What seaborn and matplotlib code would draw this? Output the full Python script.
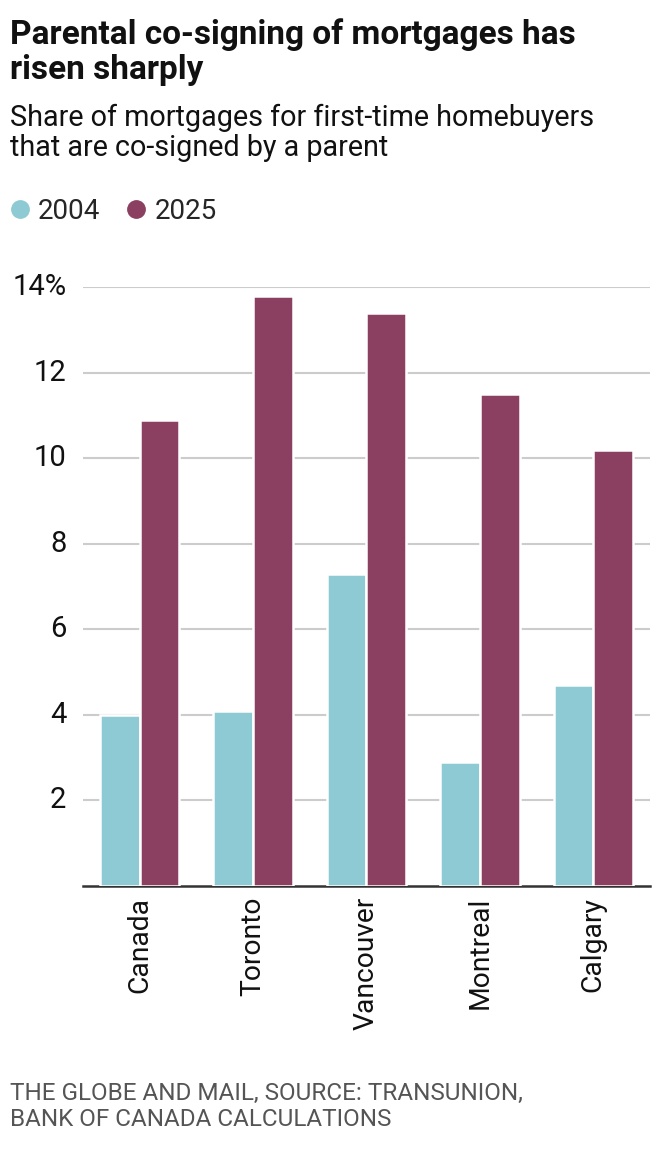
import matplotlib
matplotlib.use("Agg")
import matplotlib.pyplot as plt
import pandas as pd
import seaborn as sns
from matplotlib.lines import Line2D

# Data
cities = ["Canada", "Toronto", "Vancouver", "Montreal", "Calgary"]
share_2004 = [4.0, 4.1, 7.3, 2.9, 4.7]
share_2025 = [10.9, 13.8, 13.4, 11.5, 10.2]
years = ["2004", "2025"]
y_ticks = [2, 4, 6, 8, 10, 12, 14]
y_tick_labels = ["2", "4", "6", "8", "10", "12", "14%"]

colors = {"2004": "#8ecad4", "2025": "#8b3f61"}

df = pd.DataFrame({
    "city": cities * 2,
    "year": ["2004"] * len(cities) + ["2025"] * len(cities),
    "share": share_2004 + share_2025,
})

sns.set_theme(style="white")
plt.rcParams["font.family"] = ["Roboto", "DejaVu Sans"]

fig = plt.figure(figsize=(6.6, 11.5), dpi=100)
ax = fig.add_axes([0.1258, 0.2296, 0.859, 0.5208])

sns.barplot(data=df, x="city", y="share", hue="year", hue_order=years,
            palette=colors, width=0.7, ax=ax, edgecolor="white",
            linewidth=1.8, saturation=1, legend=False, zorder=3)

ax.set_ylim(0, 14)
ax.set_xlim(-0.5, 4.5)
ax.set_yticks(y_ticks)
ax.set_yticklabels(y_tick_labels)
ax.yaxis.grid(True, color="#cccccc", linewidth=1.5, zorder=0)
ax.set_axisbelow(True)
for s in ["top", "right", "left"]:
    ax.spines[s].set_visible(False)
ax.spines["bottom"].set_color("#333333")
ax.spines["bottom"].set_linewidth(1.8)
ax.tick_params(axis="y", length=0, labelsize=21, labelcolor="#111111", pad=12)
ax.tick_params(axis="x", length=0, labelsize=20.3, labelcolor="#111111",
               labelrotation=90, pad=8)
for lbl in ax.get_yticklabels():
    lbl.set_verticalalignment("center")
ax.set_xlabel("")
ax.set_ylabel("")

# Title and subtitle
fig.text(0.015, 0.984, "Parental co-signing of mortgages has\nrisen sharply",
         fontsize=24, fontweight="bold", color="#111111", va="top", ha="left",
         linespacing=1.13)
fig.text(0.015, 0.91, "Share of mortgages for first-time homebuyers\nthat are co-signed by a parent",
         fontsize=20.7, color="#111111", va="top", ha="left", linespacing=1.1)

# Legend
handles = [Line2D([0], [0], marker="o", linestyle="", markersize=12.5,
                  markerfacecolor=colors[y], markeredgecolor=colors[y]) for y in years]
fig.legend(handles, years, loc="center left", bbox_to_anchor=(-0.012, 0.816),
           ncol=2, frameon=False, fontsize=20, handletextpad=0.05,
           columnspacing=0.7, handlelength=1.2, borderaxespad=0)

# Footer
fig.text(0.015, 0.059, "THE GLOBE AND MAIL, SOURCE: TRANSUNION,\nBANK OF CANADA CALCULATIONS",
         fontsize=17.5, color="#555555", va="top", ha="left", linespacing=1.15)

fig.savefig("out.png", dpi=100)
